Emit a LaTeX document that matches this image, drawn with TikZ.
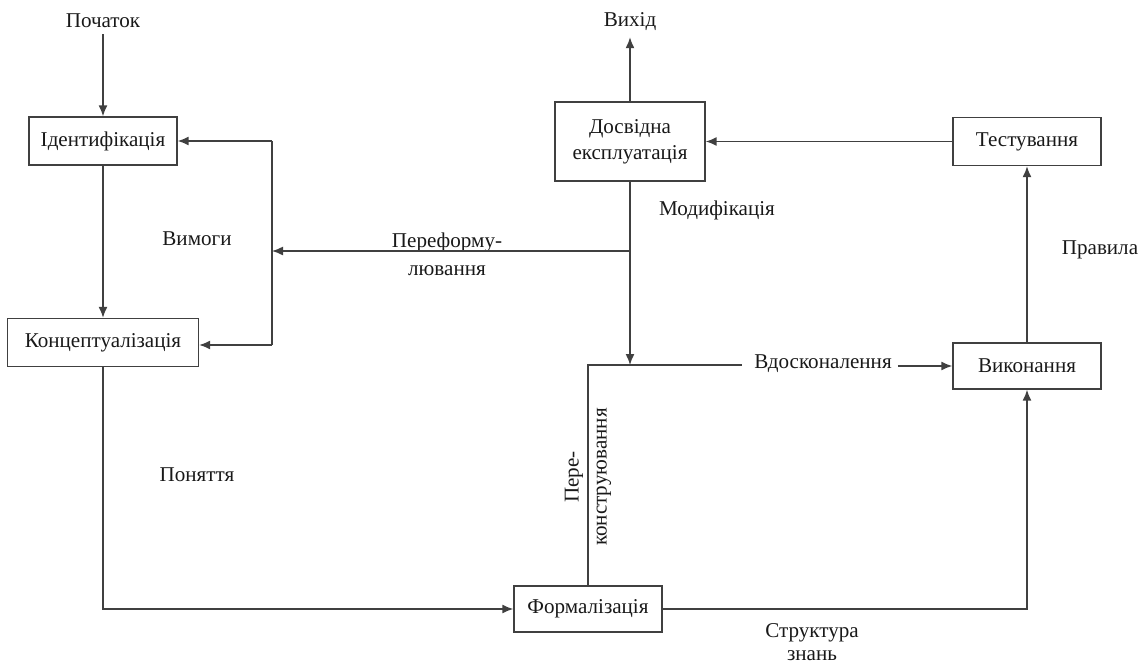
\documentclass[tikz,border=0pt]{standalone}
\usepackage{fontspec}
\setmainfont{Liberation Serif}
\usetikzlibrary{arrows.meta}

\begin{document}
\begin{tikzpicture}[x=0.02cm, y=-0.02cm,
  every node/.style={font=\fontsize{12}{15}\selectfont, text=black!90},
  stage/.style={draw=black!75, line width=0.8pt, minimum width=2.96cm, minimum height=0.96cm, align=center},
  flow/.style={draw=black!75, line width=0.8pt, -{Latex[length=2.2mm,width=1.8mm]}},
  wire/.style={draw=black!75, line width=0.8pt},
  twoline/.style={align=center, font=\fontsize{12}{16}\selectfont}]
\useasboundingbox (0,0) rectangle (1140,666);
% stages
\node[stage] (ident) at (103,141) {Ідентифікація};
\node[stage, minimum width=3.82cm] (concept) at (103,342.5) {Концептуалізація};
\node[stage, minimum width=3cm, minimum height=1.58cm] (dosvid) at (630,141.5) {Досвідна\\експлуатація};
\node[stage] (test) at (1027,141.5) {Тестування};
\node[stage, minimum height=0.92cm] (vykon) at (1027,366) {Виконання};
\node[stage, minimum height=0.92cm] (formal) at (588,609) {Формалізація};
% labels
\node (start) at (103,21) {Початок};
\node (exit) at (630,22) {Вихід};
\node (vymogy) at (197,239) {Вимоги};
\node (modif) at (717,210) {Модифікація};
\node[twoline] (reform) at (447,254) {Переформу-\\лювання};
\node (vdosk) at (823,364) {Вдосконалення};
\node[twoline, rotate=90] (rekon) at (588,477) {Пере-\\конструювання};
\node (ponyat) at (197,475) {Поняття};
\node[twoline, font=\fontsize{12}{13.5}\selectfont, inner sep=1pt] (struct) at (812,642) {Структура\\знань};
\node (pravyla) at (1100,250) {Правила};
% junctions
\coordinate (fbtop) at (272,141);
\coordinate (fbmid) at (272,251);
\coordinate (fbbot) at (272,345);
\coordinate (split) at (630,251);
\coordinate (merge) at (630,365);
\coordinate (vend) at (742,365);
% connectors
\draw[flow] (start) -- (ident);
\draw[flow] (ident) -- (concept);
\draw[flow] (dosvid) -- (exit);
\draw[flow] (test) -- (dosvid);
\draw[wire] (fbtop) -- (fbbot);
\draw[flow] (fbtop) -- (ident);
\draw[flow] (fbbot) -- (concept.east |- fbbot);
\draw[flow] (dosvid) -- (merge);
\draw[flow] (split) -- (fbmid);
\draw[wire] (formal.north) |- (vend);
\draw[flow] (vdosk.east |- vykon.west) -- (vykon.west);
\draw[flow] (concept.south) |- (formal.west);
\draw[flow] (formal.east) -| (vykon.south);
\draw[flow] (vykon) -- (test);
\end{tikzpicture}
\end{document}
